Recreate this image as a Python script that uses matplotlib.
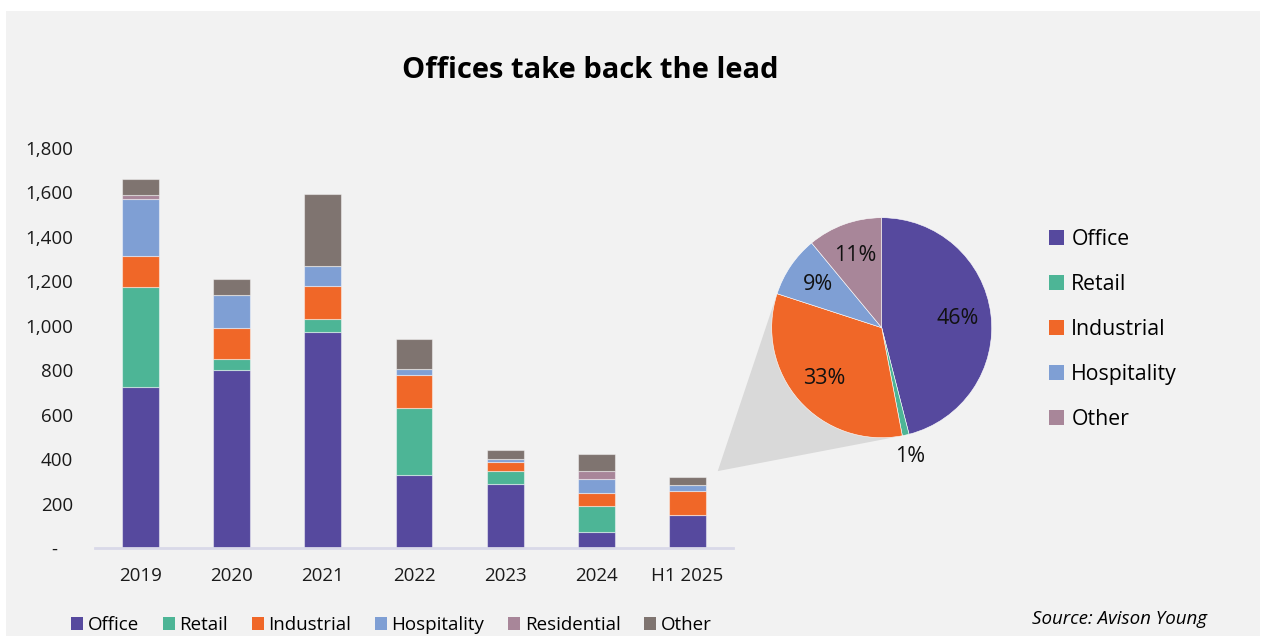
"""
    Stacked bars of investment volume by sector with an H1 2025 pie breakdown.
"""

import numpy as np
import matplotlib.pyplot as plt
from matplotlib.patches import Rectangle, Polygon, Patch

plt.rcParams['font.family'] = ['Open Sans', 'DejaVu Sans']

# Data
years = ['2019', '2020', '2021', '2022', '2023', '2024', 'H1 2025']
office = [726, 800, 971, 329, 290, 71, 147]
retail = [450, 49, 58, 300, 57, 116, 3]
industrial = [139, 141, 148, 149, 41, 62, 106]
hospitality = [254, 150, 90, 28, 12, 63, 29]
residential = [19, 0, 0, 0, 0, 33, 0]
other = [71, 69, 324, 134, 41, 80, 36]

pie_labels = ['Office', 'Retail', 'Industrial', 'Hospitality', 'Other']
pie_shares = [46, 1, 33, 9, 11]

y_ticks = [0, 200, 400, 600, 800, 1000, 1200, 1400, 1600, 1800]

# Colours
c_office = '#56499e'
c_retail = '#4db596'
c_industrial = '#f06728'
c_hospitality = '#7f9fd4'
c_residential = '#a88699'
c_other = '#7f7470'
bg = '#f2f2f2'

W, H = 1263, 636
fig = plt.figure(figsize=(W / 100, H / 100), dpi=100, facecolor='white')

# light grey panel behind everything
fig.patches.append(Rectangle((6 / W, 0), (1260 - 6) / W, (H - 11) / H,
                             transform=fig.transFigure, facecolor=bg,
                             edgecolor='none', zorder=-3))

fig.text(590 / W, 1 - 70 / H, 'Offices take back the lead', ha='center', va='center',
         fontsize=21, fontweight='bold', color='black')

# ---- stacked bars
ax = fig.add_axes([95 / W, 88 / H, 638 / W, 400 / H])
ax.patch.set_visible(False)

series = [('Office', office, c_office), ('Retail', retail, c_retail),
          ('Industrial', industrial, c_industrial), ('Hospitality', hospitality, c_hospitality),
          ('Residential', residential, c_residential), ('Other', other, c_other)]

x = np.arange(len(years))
bar_w = 0.405
bottom = np.zeros(len(years))
for name, vals, col in series:
    vals = np.array(vals, dtype=float)
    ax.bar(x, vals, bar_w, bottom=bottom, color=col, edgecolor=(1, 1, 1, 0.45),
           linewidth=0.8, label=name, zorder=2)
    bottom += vals
totals = bottom

ax.set_xlim(-0.5, 6.5)
ax.set_ylim(0, 1800)
ax.set_xticks(x)
ax.set_xticklabels(years)
ax.set_yticks(y_ticks)
ax.set_yticklabels(['-   '] + [f'{v:,}' for v in y_ticks[1:]])
ax.tick_params(axis='both', length=0, labelsize=13.5, colors='#1a1a1a')
ax.tick_params(axis='y', pad=16)
ax.tick_params(axis='x', pad=14)
for s in ['top', 'right', 'left']:
    ax.spines[s].set_visible(False)
ax.spines['bottom'].set_color('#d9d9e8')
ax.spines['bottom'].set_linewidth(2)

leg_handles = [Patch(facecolor=col, edgecolor='none') for _, _, col in series]
fig.legend(leg_handles, [n for n, _, _ in series], loc='center left',
           bbox_to_anchor=(71 / W, 11 / H), ncol=6, frameon=False, fontsize=13.5,
           handlelength=0.65, handleheight=0.65, handletextpad=0.25, columnspacing=1.25,
           borderpad=0, borderaxespad=0)

fig.text(1207 / W, 17 / H, 'Source: Avison Young', ha='right', va='center',
         fontsize=13.5, style='italic', color='black')

# ---- pie for H1 2025
pc = (881.7, 327.7)
pr = 110
half = 1.25 * pr
pax = fig.add_axes([(pc[0] - half) / W, (H - pc[1] - half) / H, 2 * half / W, 2 * half / H])
pax.patch.set_visible(False)
pie_cols = [c_office, c_retail, c_industrial, c_hospitality, c_residential]
wedges, _ = pax.pie(pie_shares, colors=pie_cols, startangle=90, counterclock=False,
                    wedgeprops=dict(edgecolor='white', linewidth=0.4))
pax.set_xlim(-1.25, 1.25)
pax.set_ylim(-1.25, 1.25)
pax.set_aspect('equal')

for w, share in zip(wedges, pie_shares):
    ang = np.deg2rad((w.theta1 + w.theta2) / 2)
    dist = 1.2 if share < 3 else 0.7
    pax.text(dist * np.cos(ang), dist * np.sin(ang), f'{share}%', ha='center', va='center',
             fontsize=15.5, color='#111111')

pie_handles = [Patch(facecolor=col, edgecolor='none') for col in pie_cols]
fig.legend(pie_handles, pie_labels, loc='upper left', bbox_to_anchor=(1049 / W, 1 - 229 / H),
           frameon=False, fontsize=15.3, handlelength=0.7, handleheight=0.7,
           handletextpad=0.35, labelspacing=1.13, borderpad=0, borderaxespad=0)

# ---- grey connector from the last bar to the pie
apex = ax.transData.transform((x[-1] + bar_w / 2 + 0.13, totals[-1] + 25))
cen = pax.transData.transform((0, 0))
rad = pax.transData.transform((1, 0))[0] - cen[0]
v = apex - cen
d = np.hypot(*v)
base = np.arctan2(v[1], v[0])
alpha = np.arccos(rad / d)
t1 = cen + rad * np.array([np.cos(base + alpha), np.sin(base + alpha)])
t2 = cen + rad * np.array([np.cos(base - alpha), np.sin(base - alpha)])
pts = np.array([apex, t1, cen, t2]) / np.array([W, H])
fig.patches.append(Polygon(pts, closed=True, transform=fig.transFigure,
                           facecolor='#d9d9d9', edgecolor='none', zorder=-1))

fig.savefig('out.png', dpi=100, facecolor=fig.get_facecolor())
